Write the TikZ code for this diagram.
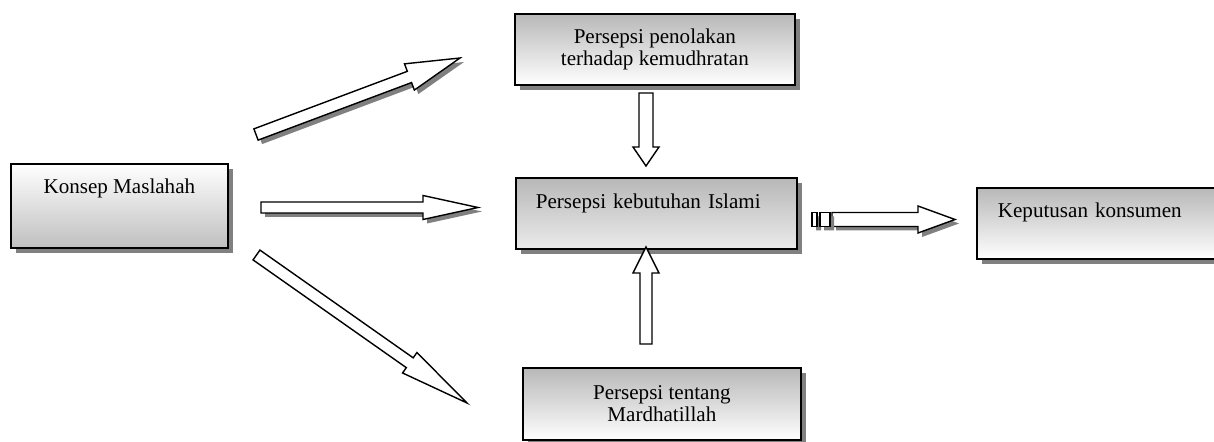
\documentclass[tikz,border=0pt]{standalone}
\usepackage{fontspec}
\setmainfont{Liberation Serif}
\usetikzlibrary{calc,shadows}

\tikzset{
  box/.style={draw, line width=1pt, anchor=north west, inner sep=0pt,
    font=\fontsize{12}{12.8}\selectfont,
    drop shadow={shadow xshift=0.1cm, shadow yshift=-0.1cm, fill=black!50, opacity=1}},
  upshade/.style={top color=black!28, bottom color=white},
  downshade/.style={top color=white, bottom color=black!25},
  arrowline/.style={draw, line width=0.8pt, fill=white},
  arrowshadow/.style={fill=black!50, transform canvas={shift={(0.08cm,-0.08cm)}}}
}

% outline of a block arrow: tail, tip, shaft half width, head half width (px)
\newcommand{\barrowpath}[4]{($(#1)!#3*0.02cm!90:(#2)$) -- ($(ba)!#3*0.02cm!90:(#2)$)
  -- ($(ba)!#4*0.02cm!90:(#2)$) -- (#2) -- ($(ba)!#4*0.02cm!-90:(#2)$)
  -- ($(ba)!#3*0.02cm!-90:(#2)$) -- ($(#1)!#3*0.02cm!-90:(#2)$) -- cycle}
% [s] = with shadow; tail, tip, shaft half width, head half width, head length
\newcommand{\blockarr}[6][]{%
  \coordinate (ba) at ($(#3)!#6*0.02cm!(#2)$);
  \ifx&#1&\else\fill[arrowshadow] \barrowpath{#2}{#3}{#4}{#5};\fi
  \draw[arrowline] \barrowpath{#2}{#3}{#4}{#5};
}

\begin{document}
\begin{tikzpicture}[x=0.02cm,y=-0.02cm]
\useasboundingbox (0,0) rectangle (1214,442);

% boxes
\node[box,downshade,minimum width=4.34cm,text height=0.6cm,text depth=1.08cm] (km) at (10,163) {Konsep Maslahah};
\node[box,upshade,minimum width=5.6cm,minimum height=1.42cm,align=center] (pp) at (514,13) {Persepsi penolakan\\terhadap kemudhratan};
\node[box,top color=black!28,middle color=white,bottom color=black!8,inner xsep=0.4cm,text width=4.82cm,align=left,text height=0.62cm,text depth=0.8cm] (kb) at (515,177) {Persepsi kebutuhan Islami};
\node[box,upshade,inner xsep=0.42cm,text width=4.16cm,align=left,text height=0.6cm,text depth=0.82cm] (kk) at (976,187) {Keputusan konsumen};
\node[box,upshade,minimum width=5.56cm,minimum height=1.44cm,align=center] (pm) at (522,367) {Persepsi tentang\\Mardhatillah};

% arrow ends
\coordinate (a1) at (256,134.5);
\coordinate (b1) at (460,58);
\coordinate (a2) at (261,207.5);
\coordinate (b2) at (478,207.5);
\coordinate (a3) at (256.5,255);
\coordinate (b3) at (467,403);
\coordinate (a4) at (646,93);
\coordinate (b4) at (646,166);
\coordinate (a5) at (646,344);
\coordinate (b5) at (646,247);
\coordinate (a6) at (832,219.5);
\coordinate (b6) at (955,219.5);

% arrows
\blockarr[s]{a1}{b1}{6}{14}{54}
\blockarr[s]{a2}{b2}{5.5}{12}{55}
\blockarr{a3}{b3}{6}{12.5}{70}
\blockarr{a4}{b4}{7}{13}{19}
\blockarr{a5}{b5}{6}{13}{26}
\blockarr[s]{a6}{b6}{7}{13.5}{37}
\fill[arrowshadow] (812,212.5) rectangle (817,226.5) (820,212.5) rectangle (830,226.5);
\draw[arrowline] (812,212.5) rectangle (817,226.5) (820,212.5) rectangle (830,226.5);
\end{tikzpicture}
\end{document}
